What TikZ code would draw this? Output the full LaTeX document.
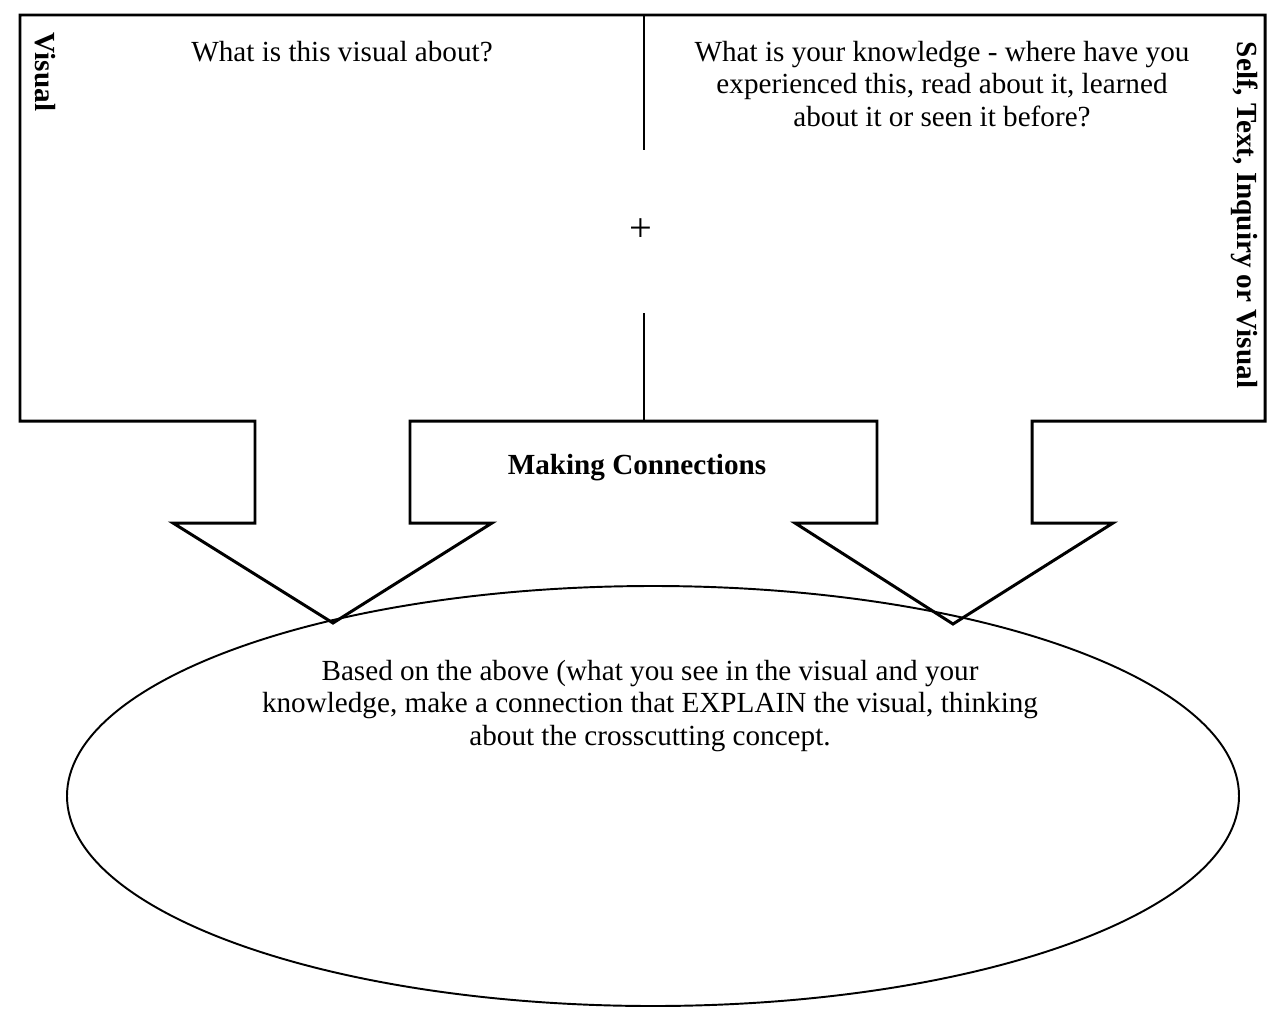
\documentclass[tikz,border=0pt]{standalone}
\usepackage{fontspec}
\setmainfont{Liberation Serif}
\begin{document}
\begin{tikzpicture}[x=0.02cm,y=-0.02cm,
    outline/.style={line width=1.7pt,line join=miter},
    prompt/.style={font=\fontsize{16.6}{18.7}\selectfont,align=center,inner sep=0pt},
    heading/.style={prompt,font=\fontsize{16.6}{18.7}\selectfont\bfseries},
    sidehead/.style={heading,rotate=-90}]
  \useasboundingbox (0,0) rectangle (1286,1022);
  % box with the three arrows
  \draw[outline]
    (20,15) -- (1265,15) -- (1265,421) -- (1032,421) -- (1032,523)
    -- (1113,523) -- (953,624) -- (795,523) -- (877,523) -- (877,421)
    -- (410,421) -- (410,523) -- (492,523) -- (333,623) -- (173,523)
    -- (255,523) -- (255,421) -- (20,421) -- cycle;
  \draw[line width=1.1pt] (653,796) ellipse [x radius=586, y radius=210];
  \node[prompt,font=\fontsize{23}{24}\selectfont] (plus) at (641,230) {+};
  \coordinate (divtop) at (644,15);
  \coordinate (divbot) at (644,421);
  \begin{scope}[line width=1.1pt]
    \draw (divtop) -- (644,150);
    \draw (644,313) -- (divbot);
  \end{scope}
  \node[sidehead] (visual) at (45,72) {Visual};
  \node[sidehead] (self) at (1245,215) {Self, Text, Inquiry or Visual};
  \node[prompt] (about) at (342,52) {What is this visual about?};
  \node[prompt] (know) at (942,84) {What is your knowledge - where have you\\
    experienced this, read about it, learned\\about it or seen it before?};
  \node[heading] (making) at (637,468) {Making Connections};
  \node[prompt] (explain) at (650,706) {Based on the above (what you see in the visual and your\\
    knowledge, make a connection that EXPLAIN the visual, thinking\\
    about the crosscutting concept.};
\end{tikzpicture}
\end{document}
